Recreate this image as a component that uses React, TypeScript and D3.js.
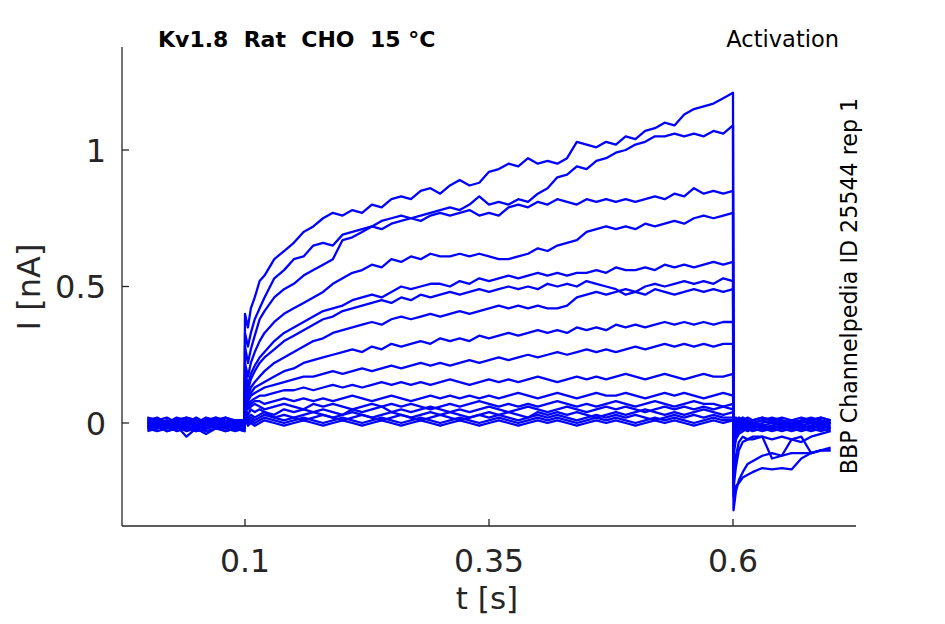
import React from "react";
import * as d3 from "d3";

// ---------- data ----------
const baselineTimes = [0, 0.01, 0.02, 0.03, 0.04, 0.05, 0.06, 0.07, 0.08, 0.09, 0.0995];
const stepTimes = [
  0.1, 0.103, 0.106, 0.11, 0.115, 0.12, 0.13, 0.14, 0.15, 0.16, 0.17, 0.18, 0.19, 0.2,
  0.21, 0.22, 0.23, 0.24, 0.25, 0.26, 0.27, 0.28, 0.29, 0.3, 0.31, 0.32, 0.33, 0.34,
  0.35, 0.36, 0.37, 0.38, 0.39, 0.4, 0.41, 0.42, 0.43, 0.44, 0.45, 0.46, 0.47, 0.48,
  0.49, 0.5, 0.51, 0.52, 0.53, 0.54, 0.55, 0.56, 0.57, 0.58, 0.59, 0.6,
];
const tailTimes = [0.6005, 0.603, 0.606, 0.61, 0.615, 0.62, 0.63, 0.64, 0.65, 0.66, 0.67, 0.68, 0.69, 0.7];

// holding current before the step (nA), one row per sweep
const baselineCurrents = [
  [0.0, -0.01, 0.01, -0.02, 0.0, -0.01, 0.01, -0.01, 0.0, -0.01, 0.0],
  [-0.02, -0.01, -0.03, -0.02, -0.01, -0.02, -0.03, -0.02, -0.01, -0.02, -0.02],
  [0.01, 0.02, 0.0, 0.01, 0.02, 0.01, 0.0, 0.02, 0.01, 0.0, 0.01],
  [-0.01, 0.0, -0.02, -0.01, -0.05, -0.02, -0.01, 0.0, -0.02, -0.01, -0.01],
  [0.0, 0.01, -0.01, 0.0, 0.01, 0.0, -0.01, 0.01, 0.0, 0.01, 0.0],
  [-0.03, -0.02, -0.01, -0.03, -0.02, -0.03, -0.02, -0.01, -0.03, -0.02, -0.03],
  [0.02, 0.01, 0.0, 0.02, 0.01, 0.0, 0.02, 0.01, 0.02, 0.0, 0.01],
  [-0.01, -0.02, 0.0, -0.01, -0.02, -0.01, 0.0, -0.02, -0.01, 0.0, -0.01],
  [0.01, 0.0, 0.01, -0.01, 0.0, 0.02, 0.0, 0.01, -0.01, 0.0, 0.01],
  [-0.02, -0.03, -0.02, -0.01, -0.03, -0.02, -0.04, -0.02, -0.03, -0.02, -0.03],
  [0.0, 0.01, 0.02, 0.0, 0.01, 0.0, 0.01, 0.02, 0.0, 0.01, 0.0],
  [-0.01, 0.0, -0.01, -0.02, 0.0, -0.01, -0.02, -0.01, 0.0, -0.02, -0.01],
  [0.01, -0.01, 0.0, 0.01, -0.01, 0.0, 0.01, 0.0, -0.01, 0.0, 0.01],
  [-0.02, -0.01, -0.03, -0.02, -0.01, -0.03, -0.02, -0.01, -0.02, -0.03, -0.02],
  [0.02, 0.01, 0.0, 0.01, 0.02, 0.01, 0.0, 0.01, 0.02, 0.01, 0.01],
  [0.0, -0.01, 0.0, 0.01, 0.0, -0.01, 0.0, 0.01, 0.0, -0.01, 0.0],
  [-0.01, -0.02, -0.01, 0.0, -0.02, -0.01, -0.02, -0.01, 0.0, -0.01, -0.01],
];

// current during the activating step (nA)
const stepCurrents = [
  [0.40, 0.35, 0.42, 0.46, 0.52, 0.54, 0.60, 0.63, 0.66, 0.70, 0.72, 0.75, 0.77, 0.76, 0.78, 0.77, 0.80, 0.79, 0.82, 0.83, 0.82, 0.85, 0.86, 0.84, 0.87, 0.89, 0.87, 0.88, 0.92, 0.93, 0.95, 0.94, 0.97, 0.95, 0.96, 0.95, 0.97, 1.03, 1.02, 1.01, 1.03, 1.02, 1.05, 1.04, 1.07, 1.08, 1.10, 1.09, 1.13, 1.15, 1.16, 1.17, 1.19, 1.21],
  [0.33, 0.28, 0.33, 0.38, 0.42, 0.46, 0.53, 0.56, 0.60, 0.61, 0.65, 0.66, 0.65, 0.69, 0.70, 0.71, 0.72, 0.74, 0.75, 0.76, 0.75, 0.76, 0.77, 0.78, 0.79, 0.78, 0.80, 0.83, 0.80, 0.81, 0.80, 0.82, 0.81, 0.84, 0.86, 0.90, 0.91, 0.94, 0.93, 0.96, 0.97, 0.99, 1.00, 1.02, 1.03, 1.05, 1.05, 1.06, 1.05, 1.06, 1.05, 1.07, 1.06, 1.09],
  [0.28, 0.22, 0.27, 0.32, 0.38, 0.41, 0.46, 0.49, 0.51, 0.54, 0.56, 0.58, 0.60, 0.67, 0.68, 0.70, 0.72, 0.71, 0.73, 0.74, 0.75, 0.74, 0.76, 0.77, 0.76, 0.77, 0.78, 0.76, 0.77, 0.76, 0.79, 0.80, 0.79, 0.81, 0.80, 0.82, 0.81, 0.80, 0.82, 0.81, 0.82, 0.81, 0.82, 0.81, 0.82, 0.83, 0.82, 0.84, 0.83, 0.86, 0.84, 0.85, 0.84, 0.85],
  [0.22, 0.17, 0.22, 0.26, 0.30, 0.33, 0.37, 0.40, 0.42, 0.44, 0.46, 0.48, 0.51, 0.53, 0.55, 0.56, 0.58, 0.57, 0.60, 0.59, 0.61, 0.60, 0.62, 0.61, 0.61, 0.62, 0.61, 0.62, 0.61, 0.60, 0.60, 0.61, 0.62, 0.64, 0.63, 0.65, 0.66, 0.67, 0.70, 0.71, 0.72, 0.71, 0.72, 0.71, 0.73, 0.72, 0.73, 0.74, 0.73, 0.75, 0.76, 0.75, 0.76, 0.77],
  [0.19, 0.14, 0.18, 0.21, 0.24, 0.26, 0.30, 0.33, 0.35, 0.37, 0.39, 0.41, 0.42, 0.43, 0.45, 0.46, 0.47, 0.46, 0.48, 0.50, 0.49, 0.50, 0.51, 0.51, 0.50, 0.52, 0.51, 0.53, 0.52, 0.53, 0.54, 0.53, 0.54, 0.55, 0.54, 0.55, 0.54, 0.55, 0.55, 0.56, 0.55, 0.57, 0.56, 0.56, 0.57, 0.56, 0.58, 0.57, 0.58, 0.57, 0.58, 0.59, 0.58, 0.59],
  [0.17, 0.12, 0.16, 0.19, 0.22, 0.24, 0.27, 0.30, 0.32, 0.34, 0.36, 0.38, 0.39, 0.41, 0.42, 0.43, 0.44, 0.45, 0.44, 0.46, 0.45, 0.47, 0.46, 0.47, 0.48, 0.47, 0.48, 0.49, 0.48, 0.49, 0.50, 0.49, 0.50, 0.49, 0.51, 0.50, 0.51, 0.50, 0.52, 0.51, 0.50, 0.49, 0.47, 0.48, 0.50, 0.51, 0.50, 0.51, 0.52, 0.51, 0.52, 0.51, 0.53, 0.52],
  [0.15, 0.10, 0.13, 0.15, 0.17, 0.19, 0.22, 0.24, 0.26, 0.28, 0.30, 0.31, 0.33, 0.34, 0.35, 0.36, 0.37, 0.36, 0.38, 0.39, 0.38, 0.39, 0.40, 0.39, 0.40, 0.41, 0.40, 0.41, 0.42, 0.43, 0.42, 0.43, 0.42, 0.43, 0.42, 0.42, 0.43, 0.46, 0.47, 0.48, 0.47, 0.48, 0.49, 0.48, 0.47, 0.49, 0.48, 0.47, 0.48, 0.49, 0.48, 0.49, 0.48, 0.49],
  [0.13, 0.09, 0.11, 0.13, 0.14, 0.15, 0.17, 0.19, 0.20, 0.22, 0.23, 0.24, 0.25, 0.26, 0.27, 0.26, 0.28, 0.27, 0.29, 0.28, 0.29, 0.30, 0.29, 0.31, 0.30, 0.31, 0.30, 0.32, 0.31, 0.32, 0.33, 0.32, 0.33, 0.34, 0.33, 0.34, 0.33, 0.35, 0.34, 0.35, 0.34, 0.36, 0.35, 0.36, 0.35, 0.36, 0.37, 0.36, 0.37, 0.36, 0.37, 0.36, 0.37, 0.37],
  [0.11, 0.08, 0.10, 0.11, 0.12, 0.13, 0.14, 0.15, 0.16, 0.17, 0.17, 0.18, 0.19, 0.18, 0.19, 0.20, 0.19, 0.20, 0.21, 0.20, 0.21, 0.22, 0.21, 0.22, 0.21, 0.22, 0.23, 0.22, 0.23, 0.24, 0.23, 0.24, 0.25, 0.24, 0.25, 0.26, 0.25, 0.26, 0.27, 0.26, 0.27, 0.26, 0.27, 0.28, 0.27, 0.28, 0.29, 0.28, 0.29, 0.28, 0.29, 0.28, 0.29, 0.29],
  [0.10, 0.07, 0.08, 0.09, 0.10, 0.10, 0.11, 0.12, 0.12, 0.13, 0.12, 0.13, 0.14, 0.13, 0.14, 0.13, 0.14, 0.15, 0.14, 0.15, 0.14, 0.15, 0.14, 0.15, 0.16, 0.15, 0.14, 0.15, 0.16, 0.15, 0.16, 0.15, 0.16, 0.17, 0.16, 0.15, 0.16, 0.17, 0.16, 0.17, 0.16, 0.17, 0.18, 0.17, 0.16, 0.17, 0.18, 0.17, 0.16, 0.17, 0.18, 0.17, 0.17, 0.18],
  [0.09, 0.06, 0.07, 0.08, 0.08, 0.07, 0.08, 0.09, 0.08, 0.09, 0.08, 0.09, 0.08, 0.09, 0.10, 0.09, 0.08, 0.09, 0.10, 0.09, 0.08, 0.09, 0.10, 0.09, 0.10, 0.09, 0.10, 0.09, 0.10, 0.09, 0.10, 0.11, 0.10, 0.09, 0.10, 0.11, 0.10, 0.09, 0.10, 0.11, 0.10, 0.10, 0.11, 0.10, 0.09, 0.10, 0.11, 0.10, 0.11, 0.10, 0.09, 0.10, 0.11, 0.10],
  [0.08, 0.05, 0.06, 0.07, 0.06, 0.05, 0.06, 0.07, 0.06, 0.05, 0.07, 0.06, 0.07, 0.06, 0.05, 0.06, 0.07, 0.06, 0.07, 0.06, 0.07, 0.06, 0.05, 0.06, 0.07, 0.06, 0.07, 0.08, 0.07, 0.06, 0.07, 0.06, 0.07, 0.06, 0.07, 0.08, 0.07, 0.06, 0.07, 0.06, 0.07, 0.08, 0.07, 0.06, 0.07, 0.08, 0.07, 0.06, 0.07, 0.08, 0.07, 0.07, 0.06, 0.07],
  [0.06, 0.03, 0.05, 0.04, 0.05, 0.04, 0.03, 0.05, 0.04, 0.05, 0.04, 0.05, 0.04, 0.03, 0.05, 0.04, 0.05, 0.06, 0.04, 0.05, 0.04, 0.05, 0.06, 0.05, 0.04, 0.05, 0.04, 0.05, 0.06, 0.05, 0.04, 0.05, 0.06, 0.05, 0.04, 0.05, 0.06, 0.05, 0.04, 0.05, 0.06, 0.05, 0.06, 0.05, 0.04, 0.05, 0.06, 0.05, 0.06, 0.05, 0.06, 0.05, 0.06, 0.05],
  [0.05, 0.02, 0.03, 0.02, 0.03, 0.04, 0.02, 0.03, 0.02, 0.03, 0.04, 0.03, 0.02, 0.03, 0.04, 0.03, 0.02, 0.03, 0.04, 0.03, 0.02, 0.03, 0.04, 0.03, 0.04, 0.03, 0.02, 0.03, 0.04, 0.03, 0.04, 0.03, 0.02, 0.04, 0.03, 0.04, 0.03, 0.04, 0.03, 0.02, 0.03, 0.04, 0.03, 0.04, 0.05, 0.04, 0.03, 0.04, 0.03, 0.04, 0.05, 0.04, 0.03, 0.04],
  [0.04, 0.01, 0.02, 0.01, 0.02, 0.03, 0.02, 0.01, 0.02, 0.01, 0.02, 0.03, 0.02, 0.01, 0.02, 0.03, 0.02, 0.01, 0.02, 0.03, 0.02, 0.01, 0.02, 0.03, 0.02, 0.01, 0.02, 0.03, 0.02, 0.03, 0.02, 0.01, 0.02, 0.03, 0.02, 0.03, 0.02, 0.01, 0.02, 0.03, 0.02, 0.03, 0.02, 0.03, 0.02, 0.01, 0.02, 0.03, 0.02, 0.03, 0.02, 0.03, 0.02, 0.02],
  [0.03, 0.0, 0.01, 0.0, 0.01, 0.02, 0.01, 0.0, 0.01, 0.02, 0.01, 0.0, 0.01, 0.02, 0.01, 0.0, 0.01, 0.02, 0.01, 0.0, 0.01, 0.02, 0.01, 0.0, 0.01, 0.02, 0.01, 0.0, 0.01, 0.02, 0.01, 0.0, 0.01, 0.02, 0.01, 0.02, 0.01, 0.0, 0.01, 0.02, 0.01, 0.02, 0.01, 0.0, 0.01, 0.02, 0.01, 0.02, 0.01, 0.0, 0.01, 0.02, 0.01, 0.01],
  [0.02, -0.01, 0.0, -0.01, 0.0, 0.01, 0.0, -0.01, 0.0, 0.01, 0.0, -0.01, 0.0, 0.01, 0.0, -0.01, 0.0, 0.01, 0.0, -0.01, 0.0, 0.01, 0.0, -0.01, 0.0, 0.01, 0.0, -0.01, 0.0, 0.01, 0.0, -0.01, 0.0, 0.01, 0.0, 0.01, 0.0, -0.01, 0.0, 0.01, 0.0, 0.01, 0.0, -0.01, 0.0, 0.01, 0.0, 0.01, 0.0, -0.01, 0.0, 0.01, 0.0, 0.01],
];

// tail current after the step (nA)
const tailCurrents = [
  [-0.32, -0.25, -0.21, -0.18, -0.15, -0.14, -0.12, -0.11, -0.12, -0.11, -0.11, -0.11, -0.10, -0.10],
  [-0.27, -0.23, -0.22, -0.20, -0.19, -0.18, -0.165, -0.17, -0.165, -0.17, -0.13, -0.11, -0.10, -0.09],
  [-0.22, -0.12, -0.07, -0.05, -0.06, -0.05, -0.05, -0.13, -0.12, -0.06, -0.07, -0.05, -0.04, -0.03],
  [-0.24, -0.16, -0.10, -0.07, -0.06, -0.06, -0.05, -0.06, -0.05, -0.06, -0.05, -0.11, -0.10, -0.10],
  [-0.12, -0.06, -0.04, -0.03, -0.02, -0.03, -0.02, -0.03, -0.02, -0.03, -0.02, -0.03, -0.02, -0.03],
  [-0.10, -0.05, -0.03, -0.02, -0.03, -0.02, -0.01, -0.02, -0.03, -0.02, -0.01, -0.02, -0.03, -0.02],
  [-0.08, -0.04, -0.02, -0.01, -0.02, -0.01, -0.02, -0.01, -0.02, -0.01, -0.02, -0.01, -0.02, -0.01],
  [-0.06, -0.03, -0.02, -0.01, 0.0, -0.01, -0.02, -0.01, 0.0, -0.01, -0.02, -0.01, 0.0, -0.01],
  [-0.04, -0.02, -0.01, 0.0, -0.01, 0.0, -0.01, 0.0, 0.01, 0.0, -0.01, 0.0, 0.01, 0.0],
  [-0.03, -0.01, 0.0, 0.01, 0.0, -0.01, 0.0, 0.01, 0.0, -0.01, 0.0, 0.01, 0.0, 0.01],
  [0.02, 0.0, 0.01, 0.02, 0.01, 0.0, 0.01, 0.02, 0.01, 0.0, 0.01, 0.02, 0.01, 0.0],
  [0.01, 0.02, 0.0, 0.01, 0.02, 0.01, 0.02, 0.01, 0.0, 0.01, 0.02, 0.01, 0.02, 0.01],
  [0.0, -0.01, 0.01, 0.0, -0.01, 0.0, 0.01, 0.0, -0.01, 0.0, 0.01, 0.0, -0.01, 0.0],
  [0.01, 0.0, -0.01, 0.0, 0.01, 0.0, -0.01, -0.02, -0.01, 0.0, -0.01, -0.02, -0.01, 0.0],
  [0.0, 0.01, 0.02, 0.01, 0.0, 0.01, 0.02, 0.01, 0.02, 0.01, 0.0, 0.01, 0.02, 0.01],
  [-0.01, -0.02, -0.01, -0.02, -0.01, -0.02, -0.03, -0.02, -0.01, -0.02, -0.03, -0.02, -0.01, -0.02],
  [0.01, 0.0, -0.01, -0.02, -0.01, 0.0, -0.01, -0.02, -0.01, -0.02, -0.01, 0.0, -0.01, -0.02],
];

const xTicks = [0.1, 0.35, 0.6];
const xTickLabels = ["0.1", "0.35", "0.6"];
const yTicks = [0, 0.5, 1];
const yTickLabels = ["0", "0.5", "1"];

const titleText = "Kv1.8  Rat  CHO  15 °C";
const protocolText = "Activation";
const sideText = "BBP Channelpedia ID 25544 rep 1";
const xLabel = "t [s]";
const yLabel = "I [nA]";

// ---------- chart ----------
const W = 945;
const H = 624;
const plot = { left: 122, right: 856, top: 47, bottom: 526 };
const axisColor = "#262626";
const font = "'DejaVu Sans', sans-serif";

function zip(times: number[], values: number[]): [number, number][] {
  const n = Math.min(times.length, values.length);
  const out: [number, number][] = [];
  for (let i = 0; i < n; i++) out.push([times[i], values[i]]);
  return out;
}

export default function App() {
  const x = d3.scaleLinear().domain([-0.02602, 0.72602]).range([plot.left, plot.right]);
  const y = d3.scaleLinear().domain([-0.3773, 1.3773]).range([plot.bottom, plot.top]);
  const line = d3
    .line<[number, number]>()
    .x((d) => x(d[0]))
    .y((d) => y(d[1]));

  const sweeps = stepCurrents.map((step, k) => [
    ...zip(baselineTimes, baselineCurrents[k]),
    ...zip(stepTimes, step),
    ...zip(tailTimes, tailCurrents[k]),
  ]);

  return (
    <svg
      width={W}
      height={H}
      viewBox={`0 0 ${W} ${H}`}
      style={{ position: "absolute", left: 0, top: 0, background: "#fff" }}
    >
      <rect x={0} y={0} width={W} height={H} fill="#fff" />
      <g>
        {sweeps
          .slice()
          .reverse()
          .map((pts, i) => (
            <path
              key={i}
              d={line(pts) || ""}
              fill="none"
              stroke="#0000ff"
              strokeWidth={2.3}
              strokeLinejoin="round"
            />
          ))}
      </g>
      {/* axes */}
      <line x1={plot.left} x2={plot.left} y1={plot.top} y2={plot.bottom} stroke={axisColor} strokeWidth={1.3} />
      <line x1={plot.left} x2={plot.right} y1={plot.bottom} y2={plot.bottom} stroke={axisColor} strokeWidth={1.3} />
      {yTicks.map((v, i) => (
        <g key={"y" + i}>
          <line x1={plot.left} x2={plot.left + 7} y1={y(v)} y2={y(v)} stroke={axisColor} strokeWidth={1.3} />
          <text
            x={106}
            y={y(v)}
            dy="0.36em"
            textAnchor="end"
            fontFamily={font}
            fontSize={32}
            fill={axisColor}
          >
            {yTickLabels[i]}
          </text>
        </g>
      ))}
      {xTicks.map((v, i) => (
        <g key={"x" + i}>
          <line x1={x(v)} x2={x(v)} y1={plot.bottom} y2={plot.bottom - 7} stroke={axisColor} strokeWidth={1.3} />
          <text x={x(v)} y={572} textAnchor="middle" fontFamily={font} fontSize={31.5} fill={axisColor}>
            {xTickLabels[i]}
          </text>
        </g>
      ))}
      <text x={487} y={609} textAnchor="middle" fontFamily={font} fontSize={31} fill={axisColor}>
        {xLabel}
      </text>
      <text
        transform={`translate(40,287) rotate(-90)`}
        textAnchor="middle"
        fontFamily={font}
        fontSize={32}
        fill={axisColor}
      >
        {yLabel}
      </text>
      <text
        x={158}
        y={47}
        fontFamily={font}
        fontSize={22}
        fontWeight="bold"
        fill="#000"
        style={{ whiteSpace: "pre" }}
      >
        {titleText}
      </text>
      <text x={839} y={47} textAnchor="end" fontFamily={font} fontSize={22.5} fill="#000">
        {protocolText}
      </text>
      <text
        transform={`translate(857,286) rotate(-90)`}
        textAnchor="middle"
        fontFamily={font}
        fontSize={22.2}
        fill="#000"
      >
        {sideText}
      </text>
    </svg>
  );
}
